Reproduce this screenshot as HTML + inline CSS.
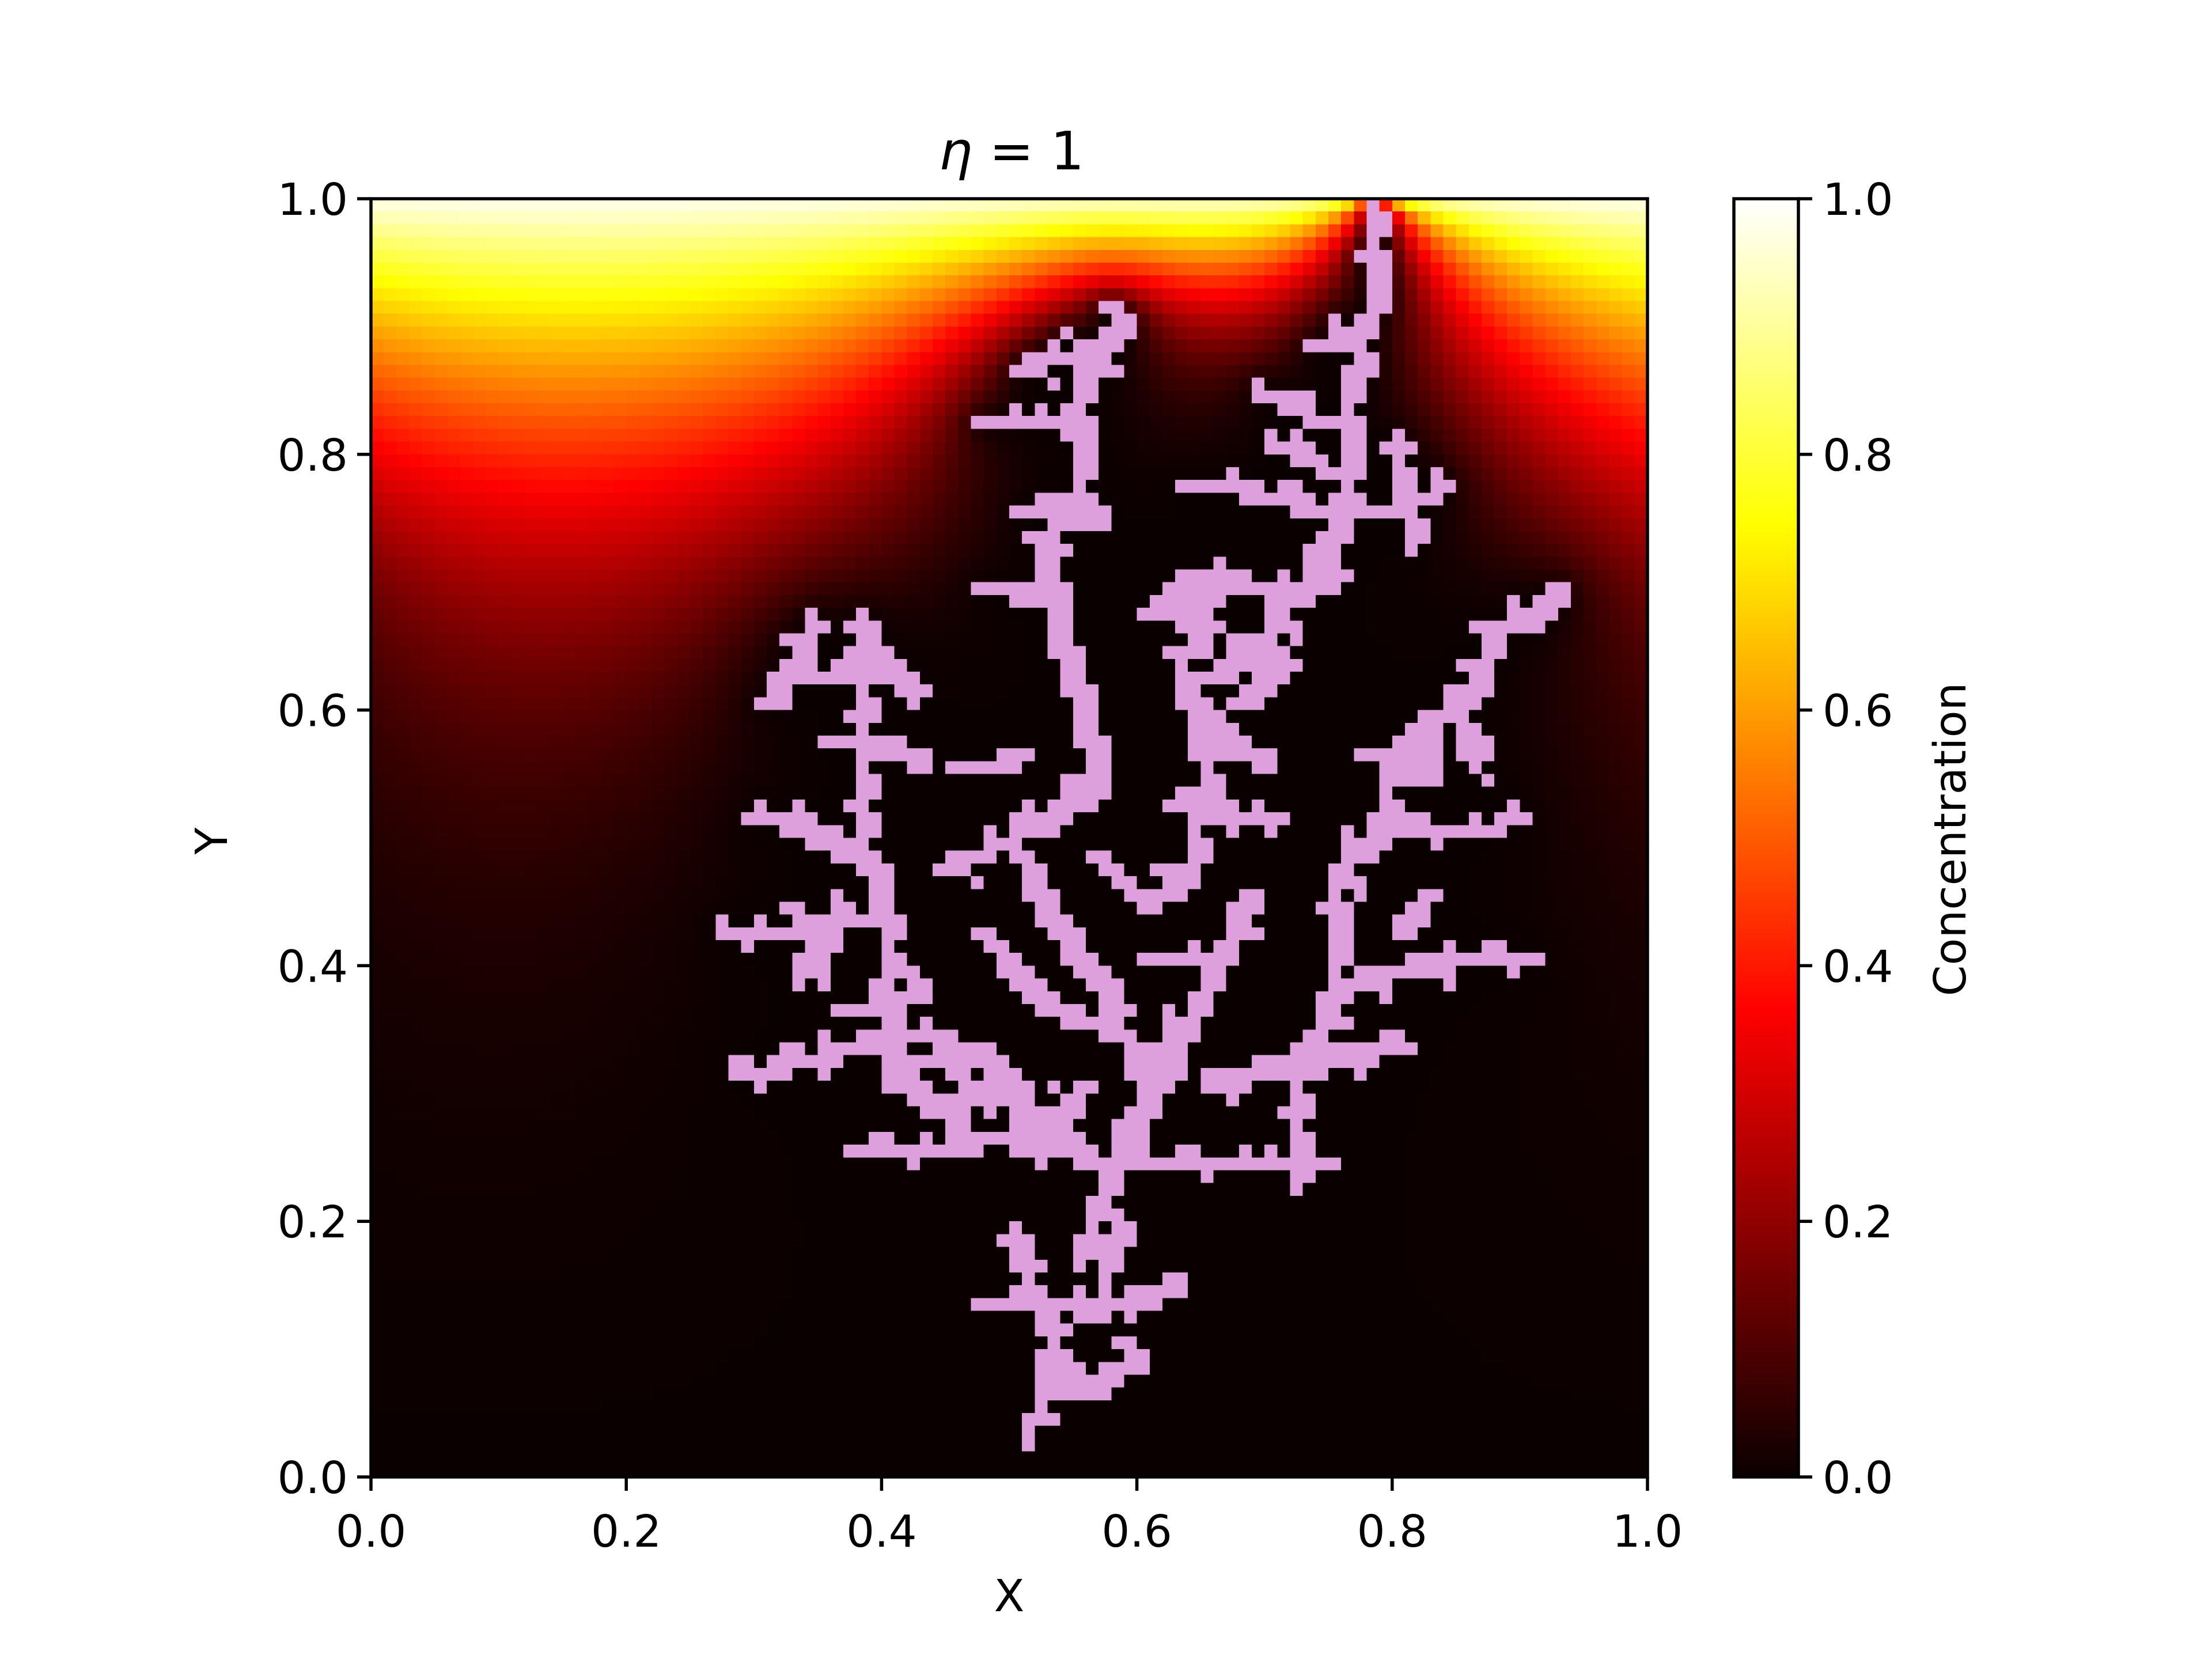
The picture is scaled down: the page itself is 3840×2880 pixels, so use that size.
<!DOCTYPE html>
<html><head><meta charset="utf-8">
<style>
html,body{margin:0;padding:0;background:#fff;}
#root{position:relative;width:3840px;height:2880px;background:#fff;overflow:hidden;font-family:"DejaVu Sans","Liberation Sans",sans-serif;}
#heat{position:absolute;left:644px;top:345px;width:2216px;height:2219px;image-rendering:pixelated;}
svg{position:absolute;left:0;top:0;}
</style></head>
<body>
<div id="root">
<canvas id="heat" width="100" height="100"></canvas>
<svg width="3840" height="2880">
<defs>
<linearGradient id="hotg" x1="0" y1="1" x2="0" y2="0">
<stop offset="0" stop-color="#0b0000"/>
<stop offset="0.365" stop-color="#ff0000"/>
<stop offset="0.746" stop-color="#ffff00"/>
<stop offset="1" stop-color="#ffffff"/>
</linearGradient>
</defs>
<text x="1756" y="294" font-size="92" text-anchor="middle"><tspan font-style="italic">η</tspan> = 1</text>
<rect x="644" y="345" width="2216" height="2219" fill="none" stroke="#000" stroke-width="5.5"/>
<g id="xticks"></g>
<g id="yticks"></g>
<text x="1752" y="2797" font-size="77" text-anchor="middle">X</text>
<text x="0" y="0" font-size="77" text-anchor="middle" transform="translate(394,1460) rotate(-90)">Y</text>
<rect x="3010" y="345" width="112" height="2219" fill="url(#hotg)" stroke="#000" stroke-width="5.5"/>
<g id="cticks"></g>
<text x="0" y="0" font-size="77" text-anchor="middle" transform="translate(3412,1457) rotate(-90)">Concentration</text>
</svg>
</div>
<script>
const gridN = 100;
const tickLabels = ["0.0","0.2","0.4","0.6","0.8","1.0"];
const tickValues = [0,0.2,0.4,0.6,0.8,1.0];
const branches = [
 [[0.51,0.02],[0.53,0.10],[0.50,0.18]],
 [[0.47,0.13],[0.55,0.12],[0.62,0.15]],
 [[0.53,0.06],[0.59,0.09]],
 [[0.55,0.16],[0.58,0.25],[0.60,0.30]],
 [[0.37,0.25],[0.45,0.26],[0.55,0.24],[0.75,0.24]],
 [[0.52,0.24],[0.50,0.30],[0.45,0.28],[0.40,0.31]],
 [[0.28,0.31],[0.35,0.33],[0.45,0.31]],
 [[0.40,0.31],[0.40,0.42],[0.38,0.50],[0.38,0.58],[0.38,0.66]],
 [[0.27,0.42],[0.33,0.43],[0.40,0.44]],
 [[0.29,0.51],[0.33,0.50],[0.37,0.48]],
 [[0.34,0.62],[0.38,0.64],[0.42,0.60]],
 [[0.35,0.57],[0.42,0.55]],
 [[0.60,0.30],[0.57,0.38],[0.52,0.44],[0.50,0.50]],
 [[0.47,0.42],[0.52,0.36],[0.57,0.34]],
 [[0.44,0.47],[0.50,0.50],[0.56,0.54]],
 [[0.60,0.30],[0.65,0.38],[0.68,0.45]],
 [[0.56,0.48],[0.60,0.44],[0.64,0.48],[0.65,0.55],[0.63,0.62],[0.65,0.70],[0.62,0.68]],
 [[0.56,0.54],[0.55,0.60],[0.53,0.66],[0.52,0.72],[0.55,0.77],[0.55,0.85],[0.58,0.90]],
 [[0.47,0.69],[0.53,0.67]],
 [[0.50,0.75],[0.56,0.74]],
 [[0.47,0.82],[0.55,0.82]],
 [[0.50,0.86],[0.55,0.88]],
 [[0.65,0.30],[0.70,0.32],[0.77,0.33],[0.80,0.34]],
 [[0.72,0.22],[0.72,0.30],[0.75,0.38],[0.83,0.40],[0.90,0.40]],
 [[0.75,0.38],[0.75,0.46],[0.78,0.50],[0.87,0.50],[0.89,0.52]],
 [[0.78,0.50],[0.80,0.56],[0.86,0.62],[0.88,0.66],[0.92,0.69]],
 [[0.77,0.56],[0.82,0.54]],
 [[0.65,0.62],[0.70,0.66],[0.74,0.72],[0.76,0.78],[0.76,0.84],[0.78,0.92],[0.78,0.99]],
 [[0.63,0.77],[0.68,0.76],[0.72,0.75]],
 [[0.72,0.75],[0.80,0.76],[0.83,0.77]],
 [[0.60,0.67],[0.65,0.66]],
 [[0.69,0.84],[0.73,0.82]],
 [[0.73,0.88],[0.77,0.90]],
 [[0.65,0.70],[0.70,0.68],[0.75,0.70]],
 [[0.42,0.34],[0.48,0.31]],
 [[0.52,0.24],[0.55,0.30]],
 [[0.36,0.36],[0.42,0.38]],
 [[0.60,0.40],[0.66,0.41]],
 [[0.45,0.55],[0.50,0.56]],
 [[0.70,0.55],[0.66,0.58]],
 [[0.83,0.45],[0.80,0.42]],
 [[0.57,0.15],[0.58,0.20]],
 [[0.33,0.38],[0.36,0.44]],
 [[0.30,0.60],[0.34,0.66]],
 [[0.62,0.52],[0.70,0.50]],
 [[0.67,0.60],[0.71,0.64]],
 [[0.81,0.72],[0.80,0.80]],
 [[0.70,0.80],[0.74,0.78]],
 [[0.84,0.60],[0.86,0.55]]
];

const PX0=644, PX1=2860, PY0=2564, PY1=345;
function xScale(v){return PX0+(PX1-PX0)*v;}
function yScale(v){return PY0+(PY1-PY0)*v;}
const NS="http://www.w3.org/2000/svg";
function mk(tag,attrs,parent){const e=document.createElementNS(NS,tag);for(const k in attrs)e.setAttribute(k,attrs[k]);parent.appendChild(e);return e;}
const xg=document.getElementById('xticks'), yg=document.getElementById('yticks'), cg=document.getElementById('cticks');
tickValues.forEach((v,i)=>{
  const x=xScale(v);
  const t=mk('line',{x1:x,x2:x,y1:PY0,y2:PY0+24,stroke:'#000','stroke-width':5.5},xg);
  
  
  const l=mk('text',{x:x,y:2685,'font-size':77,'text-anchor':'middle'},xg);l.textContent=tickLabels[i];
  
  
  const y=yScale(v);
  const t2=mk('line',{x1:PX0-24,x2:PX0,y1:y,y2:y,stroke:'#000','stroke-width':5.5},yg);
  
  
  const l2=mk('text',{x:PX0-40,y:y+28,'font-size':77,'text-anchor':'end'},yg);l2.textContent=tickLabels[i];
  
  
  const t3=mk('line',{x1:3122,x2:3146,y1:y,y2:y,stroke:'#000','stroke-width':5.5},cg);
  
  
  const l3=mk('text',{x:3164,y:y+28,'font-size':77,'text-anchor':'start'},cg);l3.textContent=tickLabels[i];
  
  
});

const N=gridN;
const cl=new Uint8Array(N*N);
function setc(i,j){if(i>=0&&i<N&&j>=0&&j<N)cl[j*N+i]=1;}
branches.forEach(b=>{
  for(let k=0;k<b.length-1;k++){
    let i0=Math.round(b[k][0]*N),j0=Math.round(b[k][1]*N);
    const i1=Math.round(b[k+1][0]*N),j1=Math.round(b[k+1][1]*N);
    const di=Math.abs(i1-i0),dj=Math.abs(j1-j0),si=i0<i1?1:-1,sj=j0<j1?1:-1;
    let err=di-dj;
    setc(i0,j0);
    while(i0!==i1||j0!==j1){
      const e2=2*err;
      if(e2>-dj){err-=dj;i0+=si;setc(i0,j0);}
      else if(e2<di){err+=di;j0+=sj;setc(i0,j0);}
      if(((i0*7+j0*13)%3)!==0)setc(i0+1,j0);
      if(((i0*11+j0*3)%4)===0)setc(i0,j0+1);
      if(((i0*5+j0*17)%7)===0){setc(i0-1,j0+1);setc(i0+1,j0-1);}
    }
  }
});

const u=new Float64Array(N*N);
for(let j=0;j<N;j++)for(let i=0;i<N;i++)u[j*N+i]=cl[j*N+i]?0:j/N;
const w=1.9;
for(let it=0;it<2500;it++){
  for(let j=0;j<N;j++){
    for(let i=0;i<N;i++){
      const id=j*N+i;
      if(cl[id]){u[id]=0;continue;}
      const l=u[j*N+(i>0?i-1:N-1)], r=u[j*N+(i<N-1?i+1:0)];
      const d=j>0?u[id-N]:0, t=j<N-1?u[id+N]:1;
      const nv=(l+r+d+t)/4;
      u[id]+=w*(nv-u[id]);
    }
  }
}
function hot(c){
  c=Math.max(0,Math.min(1,c));
  const r=Math.min(1,0.0416+c/0.365*(1-0.0416));
  const g=Math.max(0,Math.min(1,(c-0.365)/0.381));
  const b=Math.max(0,Math.min(1,(c-0.746)/0.254));
  return [r*255,g*255,b*255];
}
const cv=document.getElementById('heat');


const ctx=cv.getContext('2d');
const img=ctx.createImageData(N,N);
for(let j=0;j<N;j++)for(let i=0;i<N;i++){
  const id=j*N+i, p=((N-1-j)*N+i)*4;
  let col=cl[id]?[221,160,221]:hot(u[id]);
  img.data[p]=col[0];img.data[p+1]=col[1];img.data[p+2]=col[2];img.data[p+3]=255;
}
ctx.putImageData(img,0,0);
</script>
</body></html>
